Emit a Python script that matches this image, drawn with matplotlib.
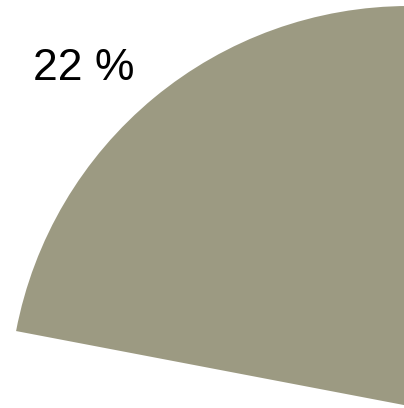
import matplotlib
matplotlib.use("Agg")
import matplotlib.pyplot as plt

# share of the slice shown
labels = ["A", "rest"]
shares = [22, 78]
colors = ["#9c9a82", "white"]

fig = plt.figure(figsize=(4.04, 4.08), dpi=100)
# axes a little wider than the figure so the slice runs off the right edge
ax = fig.add_axes([0, 0, 424 / 404, 1])

# only the first slice is visible, centre sits in the bottom right corner
wedges, _ = ax.pie(shares, colors=colors, startangle=90, counterclock=True,
                   center=(409, 2), radius=400, frame=True,
                   wedgeprops=dict(linewidth=0))
wedges[1].set_visible(False)

ax.text(33, 339, f"{shares[0]} %", fontsize=32, family="Liberation Sans",
        ha="left", va="center", color="black")

ax.set_xlim(0, 424)
ax.set_ylim(0, 408)
ax.set_aspect("auto")
ax.axis("off")

fig.savefig("out.png", dpi=100, facecolor="white")
